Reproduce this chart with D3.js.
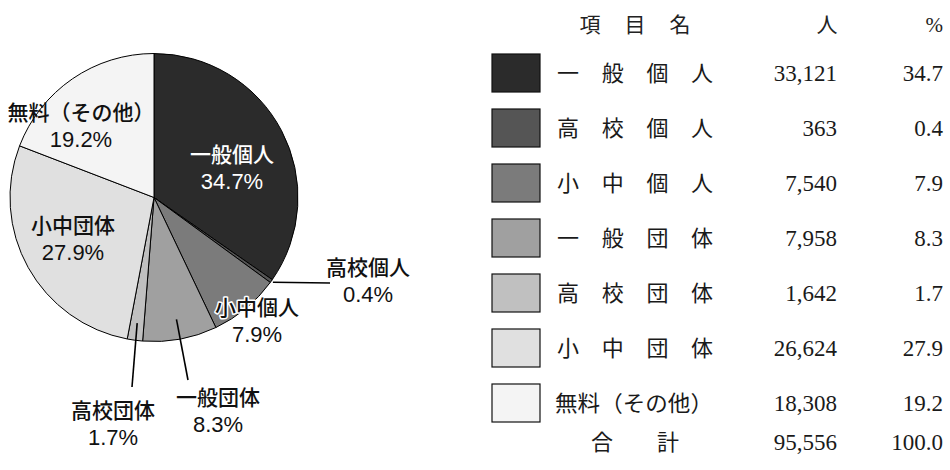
<!DOCTYPE html>
<html><head><meta charset="utf-8">
<script src="https://cdn.jsdelivr.net/npm/d3@7"></script>
<style>html,body{margin:0;padding:0;background:#fff;}</style>
</head><body>
<svg id="c" width="950" height="470"></svg>
<script>
const categories = ["一般個人","高校個人","小中個人","一般団体","高校団体","小中団体","無料（その他）"];
const people = [33121, 363, 7540, 7958, 1642, 26624, 18308];
const percents = ["34.7","0.4","7.9","8.3","1.7","27.9","19.2"];
const peopleLabels = ["33,121","363","7,540","7,958","1,642","26,624","18,308"];
const totalLabel = ["95,556","100.0"];
const headers = ["項　目　名","人","%"];
const colors = ["#2b2b2b","#555555","#7b7b7b","#a0a0a0","#c0c0c0","#e0e0e0","#f4f4f4"];

const svg = d3.select("#c");
const cx = 154, cy = 197.5, R = 144;
const g = svg.append("g").attr("transform",`translate(${cx},${cy})`);
const pie = d3.pie().sort(null).value(d=>d)(people);
const arc = d3.arc().innerRadius(0).outerRadius(R);
g.selectAll("path").data(pie).join("path")
  .attr("d",arc).attr("fill",(d,i)=>colors[i])
  .attr("stroke","#000").attr("stroke-width",1);

const sansFont = "'Liberation Sans','Noto Sans CJK JP',sans-serif";
const labelCfg = [
  {i:0, x:232, y:155, fill:"#fff"},
  {i:1, x:368, y:268, fill:"#111", leader:[330,283], lr:R+2},
  {i:2, x:257, y:308, fill:"#111", halo:true},
  {i:3, x:218, y:398, fill:"#111", leader:[188,380], lr:R*0.86},
  {i:4, x:113, y:411, fill:"#111", leader:[132,387], lr:R*0.88},
  {i:5, x:73, y:226, fill:"#111"},
  {i:6, x:81, y:113, fill:"#111"}
];
const pieLabelNames = ["一般個人","高校個人","小中個人","一般団体","高校団体","小中団体","無料（その他）"];
labelCfg.forEach(c=>{
  const d = pie[c.i];
  if(c.leader){
    const a = (d.startAngle+d.endAngle)/2;
    const sx = cx + c.lr*Math.sin(a), sy = cy - c.lr*Math.cos(a);
    svg.append("line").attr("x1",sx).attr("y1",sy).attr("x2",c.leader[0]).attr("y2",c.leader[1])
      .attr("stroke","#000").attr("stroke-width",1.6);
  }
  const lines = [pieLabelNames[c.i], percents[c.i]+"%"];
  lines.forEach((t,k)=>{
    const tx = svg.append("text").attr("x",c.x).attr("y",c.y+k*26).attr("dy","0.35em")
      .attr("text-anchor","middle").attr("font-family",sansFont).attr("font-size",k?22:21)
      .attr("font-weight",500)
      .attr("fill",c.fill).text(t);
    if(c.halo) tx.attr("stroke","#fff").attr("stroke-width",3).attr("paint-order","stroke").attr("stroke-linejoin","round");
  });
});

// legend table
const serifNum = "'Liberation Serif','DejaVu Serif',serif";
const jp = "'Noto Sans CJK JP',sans-serif";
const rowY = d3.scaleLinear().domain([0,1]).range([73,128]);
const lg = svg.append("g");
[["項",590],["目",635],["名",680]].forEach(h=>{
  lg.append("text").attr("x",h[1]).attr("y",25).attr("dy","0.35em").attr("text-anchor","middle")
   .attr("font-family",jp).attr("font-size",21).attr("fill","#222").text(h[0]);
});
lg.append("text").attr("x",827).attr("y",25).attr("dy","0.35em").attr("text-anchor","middle")
  .attr("font-family",jp).attr("font-size",21).attr("fill","#222").text(headers[1]);
lg.append("text").attr("x",943).attr("y",25).attr("dy","0.35em").attr("text-anchor","end")
  .attr("font-family",serifNum).attr("font-size",21).attr("fill","#222").text(headers[2]);

categories.forEach((c,i)=>{
  const y = rowY(i);
  lg.append("rect").attr("x",492).attr("y",y-19).attr("width",48).attr("height",38)
    .attr("fill",colors[i]).attr("stroke","#111").attr("stroke-width",1.2);
  const chars = Array.from(c);
  if(chars.length===4){
    chars.forEach((ch,k)=>{
      lg.append("text").attr("x",568+k*44.7).attr("y",y).attr("dy","0.35em").attr("text-anchor","middle")
        .attr("font-family",jp).attr("font-size",22).attr("fill","#1a1a1a").text(ch);
    });
  } else {
    lg.append("text").attr("x",555).attr("y",y).attr("dy","0.35em")
      .attr("textLength",158).attr("lengthAdjust","spacingAndGlyphs")
      .attr("font-family",jp).attr("font-size",22).attr("fill","#1a1a1a").text(c);
  }
  lg.append("text").attr("x",837).attr("y",y).attr("dy","0.35em").attr("text-anchor","end")
    .attr("font-family",serifNum).attr("font-size",23).attr("fill","#1a1a1a").text(peopleLabels[i]);
  lg.append("text").attr("x",943).attr("y",y).attr("dy","0.35em").attr("text-anchor","end")
    .attr("font-family",serifNum).attr("font-size",23).attr("fill","#1a1a1a").text(percents[i]);
});
const ty = 442;
[["合",602],["計",668]].forEach(h=>{
  lg.append("text").attr("x",h[1]).attr("y",ty).attr("dy","0.35em").attr("text-anchor","middle")
   .attr("font-family",jp).attr("font-size",22).attr("fill","#1a1a1a").text(h[0]);
});
lg.append("text").attr("x",837).attr("y",ty).attr("dy","0.35em").attr("text-anchor","end")
  .attr("font-family",serifNum).attr("font-size",23).attr("fill","#1a1a1a").text(totalLabel[0]);
lg.append("text").attr("x",943).attr("y",ty).attr("dy","0.35em").attr("text-anchor","end")
  .attr("font-family",serifNum).attr("font-size",23).attr("fill","#1a1a1a").text(totalLabel[1]);
</script>
</body></html>
